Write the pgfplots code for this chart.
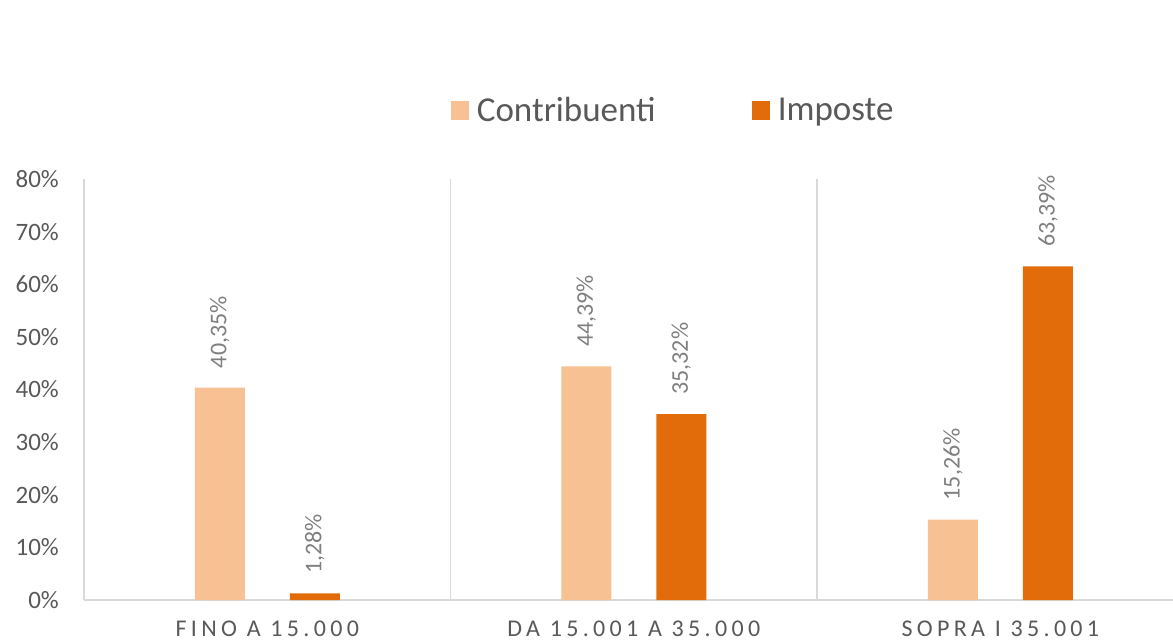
\documentclass[border=0pt]{standalone}
\usepackage{pgfplots}
\pgfplotsset{compat=1.18}
\usepackage{fontspec}
\setmainfont{Carlito}
\newfontfamily\spaced[LetterSpace=18]{Carlito}
\definecolor{lightor}{HTML}{F8C193}
\definecolor{darkor}{HTML}{E36C0A}
\definecolor{gridgray}{HTML}{D9D9D9}
\definecolor{txt}{HTML}{595959}
\definecolor{lbl}{HTML}{7F7F7F}
\begin{document}
\begin{tikzpicture}
\useasboundingbox (0,0) rectangle (1173bp,643bp);
\begin{axis}[
  at={(84bp,43bp)}, anchor=south west,
  scale only axis, width=1089bp, height=421bp,
  xmin=0, xmax=2.971, ymin=0, ymax=80,
  ybar=45bp, bar width=50bp,
  axis x line=bottom, axis y line=left,
  axis line style={draw=gridgray, line width=1.8bp, -},
  major tick length=0pt,
  /pgf/number format/assume math mode=true,
  ytick={0,10,...,80},
  yticklabel={\pgfmathprintnumber{\tick}\%},
  yticklabel style={font=\fontsize{25bp}{30bp}\selectfont, text=txt, inner sep=0pt, xshift=-25bp},
  xtick={0.5,1.5,2.5},
  xticklabels={FINO A 15.000, DA 15.001 A 35.000, SOPRA I 35.001},
  xticklabel style={font=\spaced\fontsize{24bp}{28bp}\selectfont, text=txt, inner sep=0pt, yshift=-21bp},
  extra x ticks={1,2},
  extra x tick labels={},
  extra x tick style={grid=major, major grid style={draw=gridgray, line width=1.8bp}},
  legend columns=2,
  legend style={at={(0.541,1.164)}, anchor=center, draw=none, fill=none,
    font=\fontsize{35bp}{40bp}\selectfont, text=txt,
    /tikz/every even column/.append style={column sep=94bp},
    nodes={inner sep=2bp}},
  legend image code/.code={\fill[#1] (0bp,-10bp) rectangle (18bp,9bp); \path (24bp,0bp);},
  nodes near coords={\pgfmathprintnumber[fixed,fixed zerofill,precision=2,use comma]{\pgfplotspointmeta}\%},
  every node near coord/.append style={rotate=90, anchor=west, xshift=16bp, font=\fontsize{24bp}{28bp}\selectfont, text=lbl},
  clip=false,
]
\addplot[fill=lightor, draw=none] coordinates {(0.5,40.35) (1.5,44.39) (2.5,15.26)};
\addlegendentry{Contribuenti}
\addplot[fill=darkor, draw=none] coordinates {(0.5,1.28) (1.5,35.32) (2.5,63.39)};
\addlegendentry{Imposte}
\end{axis}
\end{tikzpicture}
\end{document}
